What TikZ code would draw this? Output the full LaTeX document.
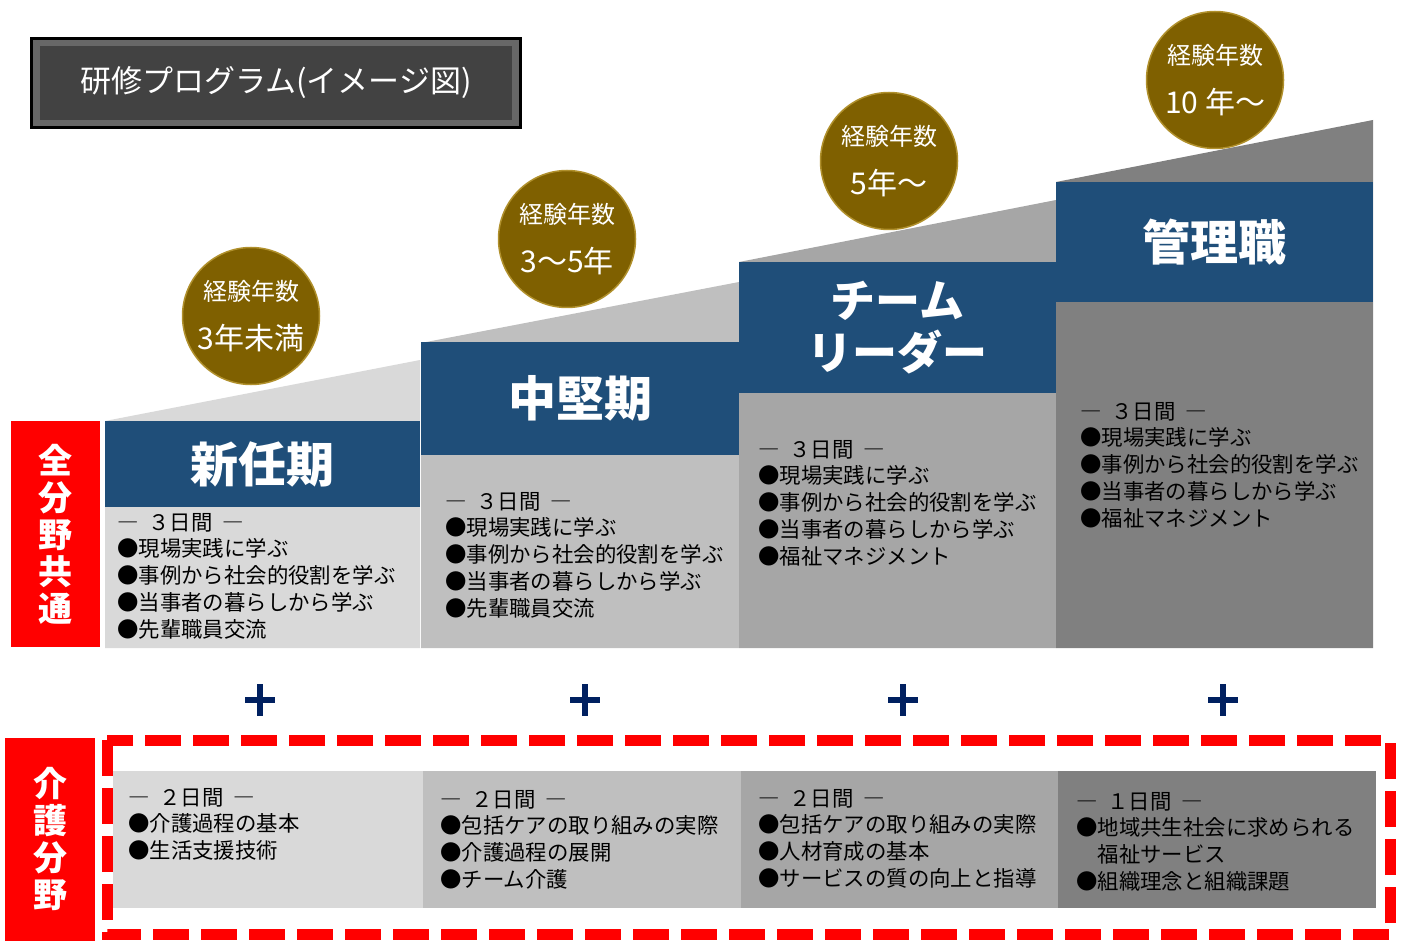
\documentclass[tikz,border=0pt]{standalone}
\usepackage{fontspec}
\setmainfont{Noto Sans CJK JP}
\definecolor{navy}{HTML}{1F4E79}
\definecolor{gold}{HTML}{7F6000}
\definecolor{goldrim}{HTML}{B0902C}
\definecolor{plusblue}{HTML}{002060}
\definecolor{gA}{HTML}{D9D9D9}
\definecolor{gB}{HTML}{BFBFBF}
\definecolor{gC}{HTML}{A6A6A6}
\definecolor{gD}{HTML}{808080}
\definecolor{titleface}{HTML}{424242}
\definecolor{titlebevel}{HTML}{676767}
\newcommand{\days}[1]{―\hspace{0.45em}#1日間\hspace{0.45em}―}

\begin{document}
\begin{tikzpicture}[x=1pt,y=-1pt,
  hdr/.style={fill=navy,text=white,inner sep=0pt,align=center,font=\fontsize{48}{52}\selectfont\bfseries},
  age/.style={circle,fill=gold,draw=goldrim,line width=1.5pt,minimum size=137pt,inner sep=0pt,text=white,align=center,font=\fontsize{24}{49}\selectfont},
  lbl/.style={fill=red,text=white,inner sep=0pt,align=center,font=\fontsize{34}{37}\selectfont\bfseries},
  body/.style={anchor=north west,inner sep=0pt,align=left,font=\fontsize{21.4}{26.7}\selectfont},
  pluspen/.style={draw=plusblue,line width=6pt},
  redframe/.style={draw=red,line width=11pt,dash pattern=on 36pt off 12pt}]

\useasboundingbox (0,0) rectangle (1403,941);

\fill[black] (30,37) rectangle (522,129);
\fill[titlebevel] (33,40) rectangle (519,126);
\node[fill=titleface,minimum width=472pt,minimum height=74pt,inner sep=0pt,text=white,font=\fontsize{31}{31}\selectfont] (v1) at (276,83) {研修プログラム(イメージ図)};

\fill[gA] (105,421) -- (420,360) -- (420,648) -- (105,648) -- cycle;
\fill[gB] (421,343) -- (739,282) -- (739,648) -- (421,648) -- cycle;
\fill[gC] (739,262) -- (1056,200) -- (1056,648) -- (739,648) -- cycle;
\fill[gD] (1056,182) -- (1373,120) -- (1373,648) -- (1056,648) -- cycle;

\node[hdr,minimum width=315pt,minimum height=86pt] (v2) at (262.5,464) {新任期};
\node[hdr,minimum width=318pt,minimum height=113pt] (v3) at (580,398.5) {中堅期};
\node[hdr,minimum width=317pt,minimum height=131pt,font=\fontsize{45}{52}\selectfont\bfseries] (v4) at (897.5,327.5) {チーム\\リーダー};
\node[hdr,minimum width=317pt,minimum height=120pt] (v5) at (1214.5,242) {管理職};

\node[age] (v6) at (251,316) {経験年数\\{\fontsize{30}{30}\selectfont 3年未満}};
\node[age] (v7) at (567,239) {経験年数\\{\fontsize{30}{30}\selectfont 3～5年}};
\node[age] (v8) at (889,161) {経験年数\\{\fontsize{30}{30}\selectfont 5年～}};
\node[age] (v9) at (1215,80) {経験年数\\{\fontsize{30}{30}\selectfont 10 年～}};

\node[body] (v10) at (117,513) {\days{３}\\●現場実践に学ぶ\\●事例から社会的役割を学ぶ\\●当事者の暮らしから学ぶ\\●先輩職員交流};
\node[body] (v11) at (445,492) {\days{３}\\●現場実践に学ぶ\\●事例から社会的役割を学ぶ\\●当事者の暮らしから学ぶ\\●先輩職員交流};
\node[body] (v12) at (758,440) {\days{３}\\●現場実践に学ぶ\\●事例から社会的役割を学ぶ\\●当事者の暮らしから学ぶ\\●福祉マネジメント};
\node[body] (v13) at (1080,402) {\days{３}\\●現場実践に学ぶ\\●事例から社会的役割を学ぶ\\●当事者の暮らしから学ぶ\\●福祉マネジメント};

\node[lbl,minimum width=89pt,minimum height=226pt] (v14) at (55.5,534) {全\\分\\野\\共\\通};

\draw[pluspen] (245,700) -- (275,700) (260,684) -- (260,716);
\draw[pluspen] (570,700) -- (600,700) (585,684) -- (585,716);
\draw[pluspen] (888,700) -- (918,700) (903,684) -- (903,716);
\draw[pluspen] (1208,700) -- (1238,700) (1223,684) -- (1223,716);

\fill[gA] (113,771) rectangle (423,908);
\fill[gB] (423,771) rectangle (741,908);
\fill[gC] (741,771) rectangle (1058,908);
\fill[gD] (1058,771) rectangle (1376,908);

\node[body] (v15) at (128,788) {\days{２}\\●介護過程の基本\\●生活支援技術};
\node[body] (v16) at (440,790) {\days{２}\\●包括ケアの取り組みの実際\\●介護過程の展開\\●チーム介護};
\node[body] (v17) at (758,789) {\days{２}\\●包括ケアの取り組みの実際\\●人材育成の基本\\●サービスの質の向上と指導};
\node[body] (v18) at (1076,792) {\days{１}\\●地域共生社会に求められる\\　福祉サービス\\●組織理念と組織課題};

\draw[redframe] (107,740) rectangle (1390,934);

\node[lbl,minimum width=90pt,minimum height=203pt] (v19) at (50,839.5) {介\\護\\分\\野};
\end{tikzpicture}
\end{document}
